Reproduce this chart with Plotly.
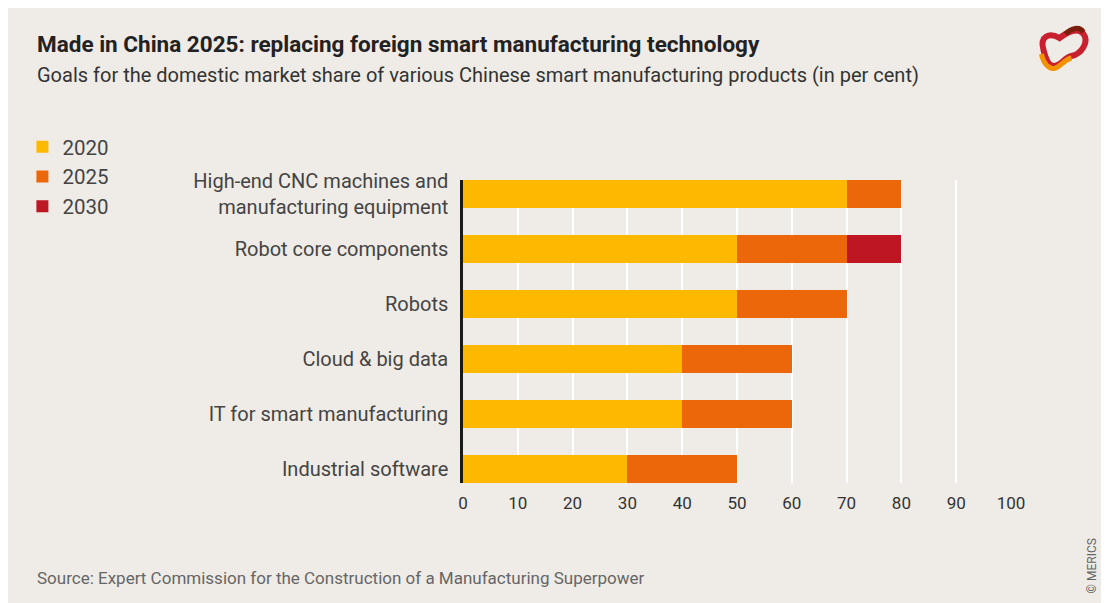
"""Made in China 2025 – domestic market share goals, stacked horizontal bar."""

import plotly.graph_objects as go

W, H = 1109, 603
OFF = 8  # page body margin; positions below are page pixels
L, R, T, B = 455, 105.5, 172, 128  # plot area margins in figure px

categories = [
    "High-end CNC machines and<br>manufacturing equipment",
    "Robot core components",
    "Robots",
    "Cloud & big data",
    "IT for smart manufacturing",
    "Industrial software",
]
# increments per target year (stacked)
goal_2020 = [70, 50, 50, 40, 40, 30]
goal_2025 = [10, 20, 20, 20, 20, 20]
goal_2030 = [0, 10, 0, 0, 0, 0]
x_ticks = [0, 10, 20, 30, 40, 50, 60, 70, 80, 90, 100]

COLORS = {"2020": "#FDB900", "2025": "#EB670A", "2030": "#BE1622"}
BG = "#EFEBE6"
FONT = "Roboto, sans-serif"


def px_x(x):
    return (x - OFF - L) / (W - L - R)


def px_y(y):
    return (H - B - (y - OFF)) / (H - T - B)


fig = go.Figure()
for name, vals in [("2020", goal_2020), ("2025", goal_2025), ("2030", goal_2030)]:
    fig.add_trace(go.Bar(
        x=vals,
        y=categories,
        name=name,
        legendgroup=name,
        orientation="h",
        width=0.5,
        marker=dict(color=COLORS[name], line=dict(width=0)),
        hovertemplate="<b>%{y}</b><br>" + name + ": %{x}<extra></extra>",
    ))

fig.update_layout(
    width=W,
    height=H,
    barmode="stack",
    paper_bgcolor=BG,
    plot_bgcolor=BG,
    margin=dict(l=L, r=R, t=T, b=B),
    font=dict(family=FONT, color="#333333"),
    legend=dict(
        x=px_x(22), y=px_y(127), xanchor="left", yanchor="top",
        traceorder="grouped", tracegroupgap=0,
        font=dict(size=20.5, color="#444444"),
        bgcolor="rgba(0,0,0,0)", itemwidth=30,
    ),
    xaxis=dict(
        range=[0, 100],
        tickvals=x_ticks,
        showgrid=True,
        gridcolor="white",
        gridwidth=2,
        zeroline=False,
        showline=False,
        layer="above traces",
        tickfont=dict(size=17, color="#333333"),
        ticks="",
        ticklabelstandoff=8,
        fixedrange=True,
    ),
    yaxis=dict(
        autorange=False,
        range=[5.25, -0.25],
        showgrid=False,
        showline=True,
        linecolor="#1a1a1a",
        linewidth=2.5,
        ticks="",
        ticklabelstandoff=8,
        tickfont=dict(size=20, color="#444444"),
        fixedrange=True,
    ),
)

# title, subtitle, source
fig.add_annotation(
    x=px_x(35), y=px_y(44), xref="paper", yref="paper", xanchor="left", yanchor="middle",
    text="<b>Made in China 2025: replacing foreign smart manufacturing technology</b>",
    showarrow=False, font=dict(size=22.5, color="#222222", family=FONT),
)
fig.add_annotation(
    x=px_x(35), y=px_y(75), xref="paper", yref="paper", xanchor="left", yanchor="middle",
    text="Goals for the domestic market share of various Chinese smart manufacturing products (in per cent)",
    showarrow=False, font=dict(size=20, color="#333333", family=FONT),
)
fig.add_annotation(
    x=px_x(35), y=px_y(578), xref="paper", yref="paper", xanchor="left", yanchor="middle",
    text="Source: Expert Commission for the Construction of a Manufacturing Superpower",
    showarrow=False, font=dict(size=17, color="#666666", family=FONT),
)
fig.add_annotation(
    x=px_x(1093), y=px_y(566), xref="paper", yref="paper", xanchor="center", yanchor="middle",
    text="© MERICS", textangle=-90,
    showarrow=False, font=dict(size=12, color="#666666", family=FONT),
)


# logo: a rough loop in red with an orange lower sweep
def pt(x, y):
    return f"{px_x(x):.4f},{px_y(y):.4f}"


loop = (
    f"M{pt(1044, 50)} C{pt(1040, 36)} {pt(1050, 32)} {pt(1060, 38)} "
    f"C{pt(1068, 32)} {pt(1078, 26)} {pt(1084, 34)} "
    f"C{pt(1090, 42)} {pt(1082, 54)} {pt(1072, 56)} "
    f"C{pt(1064, 58)} {pt(1062, 66)} {pt(1054, 66)} "
    f"C{pt(1048, 66)} {pt(1046, 58)} {pt(1044, 50)} Z"
)
fig.add_shape(type="path", path=loop, xref="paper", yref="paper",
              line=dict(color="#C8202E", width=6), fillcolor="rgba(0,0,0,0)")
sweep = (
    f"M{pt(1042, 54)} C{pt(1044, 64)} {pt(1050, 70)} {pt(1056, 68)} "
    f"C{pt(1062, 66)} {pt(1064, 60)} {pt(1072, 58)}"
)
fig.add_shape(type="path", path=sweep, xref="paper", yref="paper",
              line=dict(color="#F39200", width=5))
fig.add_shape(type="path", path=f"M{pt(1066, 34)} C{pt(1072, 28)} {pt(1080, 26)} {pt(1084, 32)}",
              xref="paper", yref="paper", line=dict(color="#7A1E0E", width=5))

fig.write_html("out.html")
